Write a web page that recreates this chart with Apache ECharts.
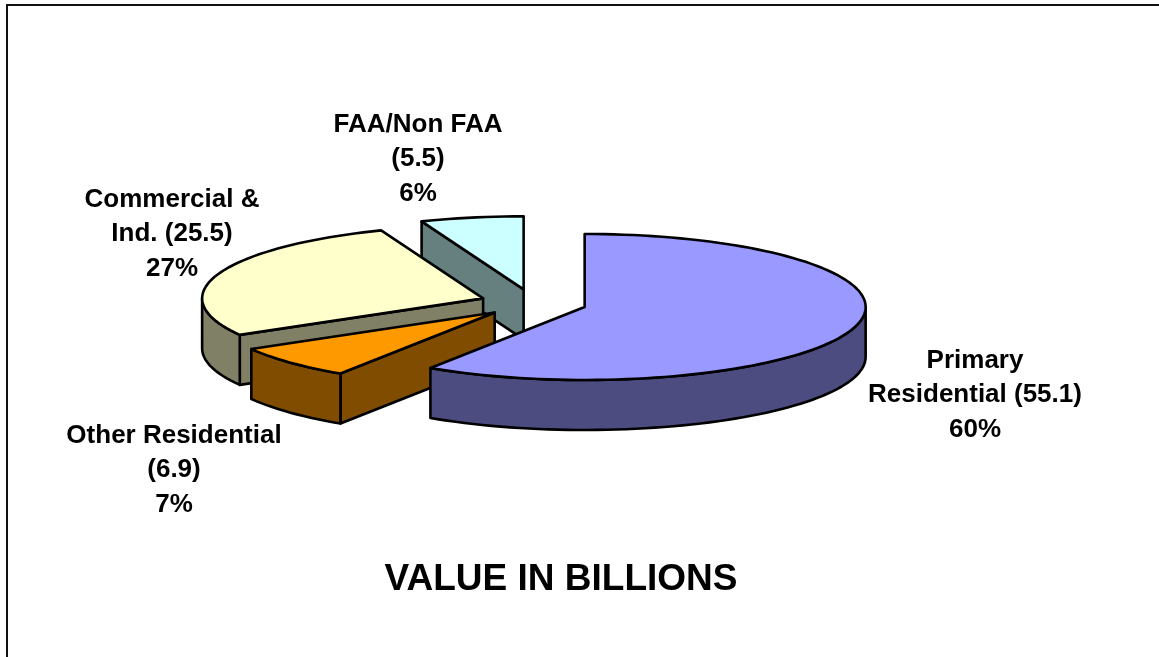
<!DOCTYPE html>
<html>
<head>
<meta charset="utf-8">
<style>
  html, body { margin: 0; padding: 0; background: #fff; }
  #chart { width: 1159px; height: 657px; }
</style>
</head>
<body>
<div id="chart"></div>
<script src="https://cdn.jsdelivr.net/npm/echarts@6/dist/echarts.min.js"></script>
<script>
const categories = ['Primary\nResidential (55.1)', 'Other Residential\n(6.9)', 'Commercial &\nInd. (25.5)', 'FAA/Non FAA\n(5.5)']
const values = [55.1, 6.9, 25.5, 5.5]
const percents = ['60%', '7%', '27%', '6%']
const topColors = ['#9999ff', '#ff9900', '#ffffcc', '#ccffff']
const wallColors = ['#4c4c80', '#804c00', '#808066', '#668080']
const labelCenters = [[975, 395], [174, 470], [172, 234], [418, 159]]

// pie projection
const cx = 533.5
const cy = 303
const rx = 281
const ry = 73
const depth = 50
const explode = 0.19

const total = values.reduce((x, y) => x + y)
const rad = (deg) => (deg * Math.PI) / 180

// 0deg is 12 o'clock, going clockwise
const onRim = (ox, oy, deg) => [ox + Math.sin(rad(deg)) * rx, oy - Math.cos(rad(deg)) * ry]

const arcPoints = (ox, oy, from, to) => {
  const pts = []
  const steps = Math.max(2, Math.ceil(Math.abs(to - from) / 2))
  for (let i = 0; i <= steps; i++) {
    pts.push(onRim(ox, oy, from + ((to - from) * i) / steps))
  }
  return pts
}

const renderSlice = (params, api) => {
  const i = params.dataIndex
  const before = values.slice(0, i).reduce((x, y) => x + y, 0)
  const start = (before / total) * 360
  const end = start + (api.value(0) / total) * 360
  const mid = rad((start + end) / 2)
  const ox = cx + Math.sin(mid) * rx * explode
  const oy = cy - Math.cos(mid) * ry * explode
  const z2 = values.length - i
  const line = { stroke: '#000', lineWidth: 2.6, lineJoin: 'round' }
  const children = []

  const wall = (points) => {
    children.push({
      type: 'polygon',
      z2,
      shape: { points },
      style: { ...line, fill: wallColors[i] },
    })
  }

  // cut faces turned towards the viewer
  const face = (deg) => {
    const p = onRim(ox, oy, deg)
    wall([[ox, oy], p, [p[0], p[1] + depth], [ox, oy + depth]])
  }
  if (Math.cos(rad(start - 90)) < -1e-6) face(start)
  if (Math.cos(rad(end + 90)) < -1e-6) face(end)

  // outer rim, only the front half shows
  const rimFrom = Math.max(start, 90)
  const rimTo = Math.min(end, 270)
  if (rimFrom < rimTo) {
    const upper = arcPoints(ox, oy, rimFrom, rimTo)
    const lower = arcPoints(ox, oy + depth, rimTo, rimFrom)
    wall(upper.concat(lower))
  }

  children.push({
    type: 'polygon',
    z2,
    shape: { points: [[ox, oy]].concat(arcPoints(ox, oy, start, end)) },
    style: { ...line, fill: topColors[i] },
  })

  children.push({
    type: 'text',
    z2: 50,
    x: labelCenters[i][0],
    y: labelCenters[i][1],
    style: {
      text: categories[i] + '\n' + percents[i],
      align: 'center',
      verticalAlign: 'middle',
      fill: '#000',
      font: 'bold 26px "Liberation Sans", Arial, sans-serif',
      lineHeight: 34.5,
    },
  })

  return { type: 'group', children }
}

const option = {
  backgroundColor: '#fff',
  animation: false,
  title: {
    text: 'VALUE IN BILLIONS',
    left: 556,
    top: 556,
    textAlign: 'center',
    textStyle: {
      color: '#000',
      fontFamily: '"Liberation Sans", Arial, sans-serif',
      fontWeight: 'bold',
      fontSize: 37,
    },
  },
  graphic: [
    {
      type: 'polyline',
      shape: { points: [[7, 657], [7, 5], [1159, 5]] },
      style: { stroke: '#111', lineWidth: 2, fill: null },
    },
  ],
  series: [
    {
      type: 'custom',
      coordinateSystem: 'none',
      renderItem: renderSlice,
      data: values.map((v) => [v]),
      silent: true,
    },
  ],
}

const myEcharts = echarts.init(document.getElementById('chart'))
myEcharts.setOption(option)
</script>
</body>
</html>
